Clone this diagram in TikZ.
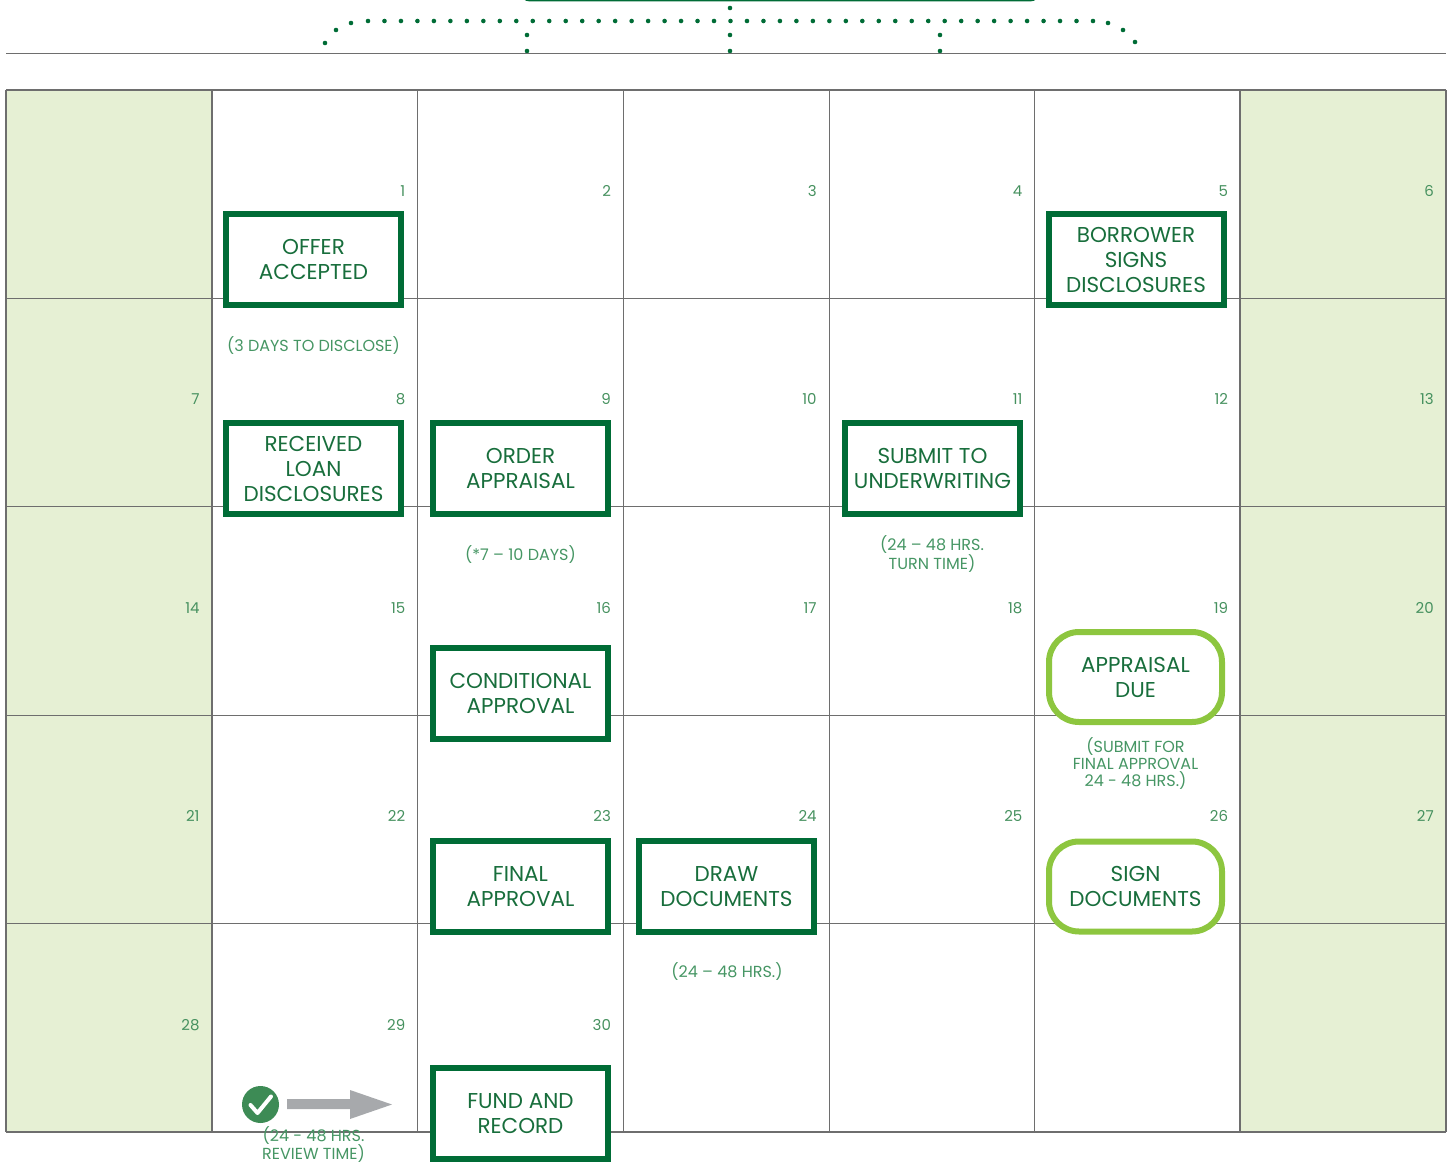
\documentclass[tikz,border=0pt]{standalone}
\usepackage{fontspec}
\setmainfont{Poppins}
\definecolor{boxgreen}{RGB}{0,108,54}
\definecolor{boxtext}{RGB}{24,110,60}
\definecolor{lbltext}{RGB}{70,150,100}
\definecolor{numtext}{RGB}{70,145,95}
\definecolor{lime}{RGB}{141,198,63}
\definecolor{wkfill}{RGB}{230,240,212}
\definecolor{gridgray}{RGB}{110,110,110}
\definecolor{checkgreen}{RGB}{61,139,85}
\definecolor{arrowgray}{RGB}{167,169,172}
\tikzset{
  actbox/.style={draw=boxgreen, fill=white, line width=6pt, text=boxtext, align=center,
    minimum width=175pt, minimum height=91pt, inner sep=0pt,
    font=\fontsize{21.5}{25}\selectfont},
  duebox/.style={draw=lime, fill=white, line width=6pt, rounded corners=30pt, text=boxtext, align=center,
    minimum width=173pt, minimum height=90pt, inner sep=0pt,
    font=\fontsize{21.5}{25}\selectfont},
  lbl/.style={text=lbltext, align=center, inner sep=0pt,
    font=\fontsize{16}{18.5}\selectfont},
  daynum/.style={text=numtext, anchor=base east, inner sep=0pt,
    font=\fontsize{15}{16}\selectfont},
  gridline/.style={draw=gridgray, line width=1.2pt},
  topdot/.style={fill=boxgreen},
}
\begin{document}
\begin{tikzpicture}[x=1pt,y=-1pt]
\useasboundingbox (0,0) rectangle (1449,1164);
% top partial box
\draw[boxgreen, line width=4pt, rounded corners=8pt] (522,-40) rectangle (1038,-0.5);
% dotted brace
\foreach \i in {0,...,44} { \fill[topdot] ({368+16.477*\i},21) circle (2.3pt); }
\foreach \p in {(325,43),(336,30),(351,23),(1108,23),(1123,30),(1135,42),
  (527,35),(527,51),(730,8),(730,35),(730,51),(940,35),(940,51)}
  { \fill[topdot] \p circle (2.3pt); }
% top rule
\draw[gridline] (6,53.5) -- (1446,53.5);
% weekend fills
\fill[wkfill] (6,90) rectangle (212,1132);
\fill[wkfill] (1240,90) rectangle (1446,1132);
% grid
\foreach \y in {90,298.4,506.8,715.2,923.6,1132} { \draw[gridline] (6,\y) -- (1446,\y); }
\foreach \x in {6,212,417.5,623.5,829.5,1034.5,1240,1446} { \draw[gridline] (\x,90) -- (\x,1132); }
% day numbers
\foreach \n [count=\c from 2] in {1,...,6} { \node[daynum] (d\n) at ({6+205.71*\c-12},196) {\n}; }
\foreach \n [count=\c from 1] in {7,...,13} { \node[daynum] (d\n) at ({6+205.71*\c-12},404.5) {\n}; }
\foreach \n [count=\c from 1] in {14,...,20} { \node[daynum] (d\n) at ({6+205.71*\c-12},613) {\n}; }
\foreach \n [count=\c from 1] in {21,...,27} { \node[daynum] (d\n) at ({6+205.71*\c-12},821.5) {\n}; }
\foreach \n [count=\c from 1] in {28,29,30} { \node[daynum] (d\n) at ({6+205.71*\c-12},1030) {\n}; }
% activity boxes
\node[actbox] (offer) at (313.5,259.5) {OFFER\\ACCEPTED};
\node[actbox] (borrower) at (1136,259.5) {BORROWER\\SIGNS\\DISCLOSURES};
\node[actbox] (received) at (313.5,468.5) {RECEIVED\\LOAN\\DISCLOSURES};
\node[actbox] (order) at (520.5,468.5) {ORDER\\APPRAISAL};
\node[actbox] (submit) at (932.5,468.5) {SUBMIT TO\\UNDERWRITING};
\node[actbox] (cond) at (520.5,693.5) {CONDITIONAL\\APPROVAL};
\node[actbox] (final) at (520.5,886.5) {FINAL\\APPROVAL};
\node[actbox] (draw) at (726.5,886.5) {DRAW\\DOCUMENTS};
\node[actbox] (fund) at (520.5,1113.5) {FUND AND\\RECORD};
\node[duebox] (due) at (1135.5,677) {APPRAISAL\\DUE};
\node[duebox] (sign) at (1135.5,886.5) {SIGN\\DOCUMENTS};
% labels
\node[lbl] (l1) at (313.5,345.5) {(3 DAYS TO DISCLOSE)};
\node[lbl] (l2) at (520.5,554.5) {(*7 – 10 DAYS)};
\node[lbl] (l3) at (932,554) {(24 – 48 HRS.\\TURN TIME)};
\node[lbl, font=\fontsize{16}{17}\selectfont] (l4) at (1135.5,763.5) {(SUBMIT FOR\\FINAL APPROVAL\\24 - 48 HRS.)};
\node[lbl] (l5) at (727,971.5) {(24 – 48 HRS.)};
\node[lbl] (l6) at (313.5,1144.5) {(24 - 48 HRS.\\REVIEW TIME)};
% check icon
\fill[checkgreen] (260.5,1104.5) circle (18.5pt);
\draw[white, line width=4pt, line cap=round, line join=round] (250.5,1105) -- (257.5,1113) -- (271,1096.5);
% arrow
\fill[arrowgray] (287,1099) -- (350,1099) -- (350,1090) -- (392,1104.5) -- (350,1119) -- (350,1109) -- (287,1109) -- cycle;
\end{tikzpicture}
\end{document}
